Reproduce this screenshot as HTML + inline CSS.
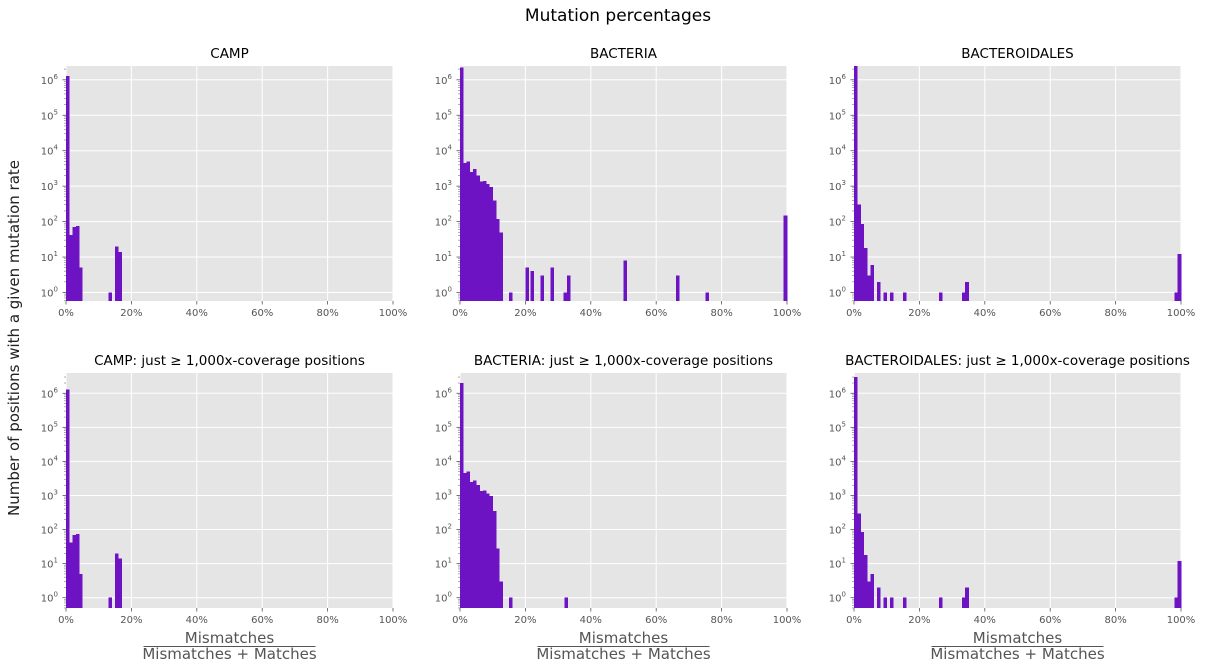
<!DOCTYPE html>
<html><head><meta charset="utf-8">
<style>
body{margin:0;background:#fff;}
svg{display:block;font-family:"DejaVu Sans","Liberation Sans",sans-serif;}
</style></head>
<body>
<svg id="fig" width="1211" height="669" viewBox="0 0 1211 669" xmlns="http://www.w3.org/2000/svg">
<text x="618" y="21" font-size="17" text-anchor="middle" fill="#000">Mutation percentages</text>
<text transform="translate(19,338) rotate(-90)" font-size="15" text-anchor="middle" fill="#222">Number of positions with a given mutation rate</text>
</svg>
<script>
const titles = ["CAMP","BACTERIA","BACTEROIDALES","CAMP: just \u2265 1,000x-coverage positions","BACTERIA: just \u2265 1,000x-coverage positions","BACTEROIDALES: just \u2265 1,000x-coverage positions"];
const xTickLabels = ["0%","20%","40%","60%","80%","100%"];
const xTickValues = [0,20,40,60,80,100];
const yTickExps = [0,1,2,3,4,5,6];
const campBins = [0,1,2,3,4,13,15,16];
const campVals = [1300000,42,70,75,5,1,20,14];
const bactBins = [0,1,2,3,4,5,6,7,8,9,10,11,12,15,20,21.5,24.6,27.7,31.7,32.7,50,66,75,99];
const bactVals = [2200000,4500,5000,2500,3000,2000,1350,1400,1150,950,400,120,50,1,5,4,3,5,1,3,8,3,1,150];
const bdalBins = [0,1,2,3,4,5,7,9,11,15,26,33,34,98,99];
const bdalVals = [3000000,300,85,18,3,6,2,1,1,1,1,1,2,1,12];
const campHiBins = [0,1,2,3,4,13,15,16];
const campHiVals = [1300000,42,70,75,5,1,20,14];
const bactHiBins = [0,1,2,3,4,5,6,7,8,9,10,11,12,15,32];
const bactHiVals = [2000000,4500,5000,2500,2800,2000,1350,1400,1150,950,350,28,3,1,1];
const bdalHiBins = [0,1,2,3,4,5,7,9,11,15,26,33,34,98,99];
const bdalHiVals = [3000000,300,85,18,3,5,2,1,1,1,1,1,2,1,12];
const panelBins = [campBins,bactBins,bdalBins,campHiBins,bactHiBins,bdalHiBins];
const panelVals = [campVals,bactVals,bdalVals,campHiVals,bactHiVals,bdalHiVals];

const NS="http://www.w3.org/2000/svg";
const svg=document.getElementById('fig');
function mk(tag,attrs,parent){const e=document.createElementNS(NS,tag);for(const k in attrs)e.setAttribute(k,attrs[k]);(parent||svg).appendChild(e);return e;}
const lefts=[66,460,854], W=327;
const rows=[{top:66,bot:301,y0:292.5,dec:35.45},{top:373,bot:608,y0:597.7,dec:34.07}];
for(let p=0;p<6;p++){
  const L=lefts[p%3], R=rows[Math.floor(p/3)];
  const g=mk('g',{});
  
  
  const xs=v=>L+v/100*W;
  const ys=v=>R.y0-Math.log10(v)*R.dec;
  const bg=mk('rect',{x:L,y:R.top,width:W,height:R.bot-R.top,fill:'#e5e5e5'},g);
  
  
  xTickValues.forEach((v,i)=>{
    mk('line',{x1:xs(v),x2:xs(v),y1:R.top,y2:R.bot,stroke:'#fff','stroke-width':1},g);
    mk('line',{x1:xs(v),x2:xs(v),y1:R.bot,y2:R.bot+3.5,stroke:'#555','stroke-width':0.8},g);
    const t=mk('text',{x:xs(v),y:R.bot+15,'font-size':10,'text-anchor':'middle',fill:'#555'},g);
    t.textContent=xTickLabels[i];
    
    
  });
  yTickExps.forEach(e=>{
    const y=ys(Math.pow(10,e));
    if(y<R.top)return;
    mk('line',{x1:L,x2:L+W,y1:y,y2:y,stroke:'#fff','stroke-width':1},g);
    mk('line',{x1:L-3.5,x2:L,y1:y,y2:y,stroke:'#555','stroke-width':0.8},g);
    const t=mk('text',{x:L-8,y:y+4,'font-size':10,'text-anchor':'end',fill:'#555'},g);
    t.innerHTML='10<tspan font-size="7" dy="-5">'+e+'</tspan>';
    
    
  });
  for(let e=-1;e<=6;e++)for(let m=2;m<=9;m++){
    const y=ys(m*Math.pow(10,e));
    if(y<R.top||y>R.bot)continue;
    mk('line',{x1:L-2,x2:L,y1:y,y2:y,stroke:'#777','stroke-width':0.6},g);
  }
  const bins=panelBins[p], vals=panelVals[p];
  bins.forEach((b,i)=>{
    const top=Math.max(ys(vals[i]),R.top);
    const r=mk('rect',{x:xs(b),y:top,width:xs(b+1)-xs(b)+0.3,height:R.bot-top,fill:'#6e13c3','shape-rendering':'crispEdges'},g);
    
    
  });
  const t=mk('text',{x:L+W/2,y:R.top-8,'font-size':13.5,'text-anchor':'middle',fill:'#000'},g);
  t.textContent=titles[p];
  
  
  if(p>=3){
    const cx=L+W/2;
    const n=mk('text',{x:cx,y:643,'font-size':15,'text-anchor':'middle',fill:'#555'},g);
    n.textContent='Mismatches';
    
    
    mk('line',{x1:cx-86,x2:cx+86,y1:646.5,y2:646.5,stroke:'#555','stroke-width':1},g);
    const d=mk('text',{x:cx,y:659,'font-size':15,'text-anchor':'middle',fill:'#555'},g);
    d.textContent='Mismatches + Matches';
    
    
  }
}
</script>
</body></html>
